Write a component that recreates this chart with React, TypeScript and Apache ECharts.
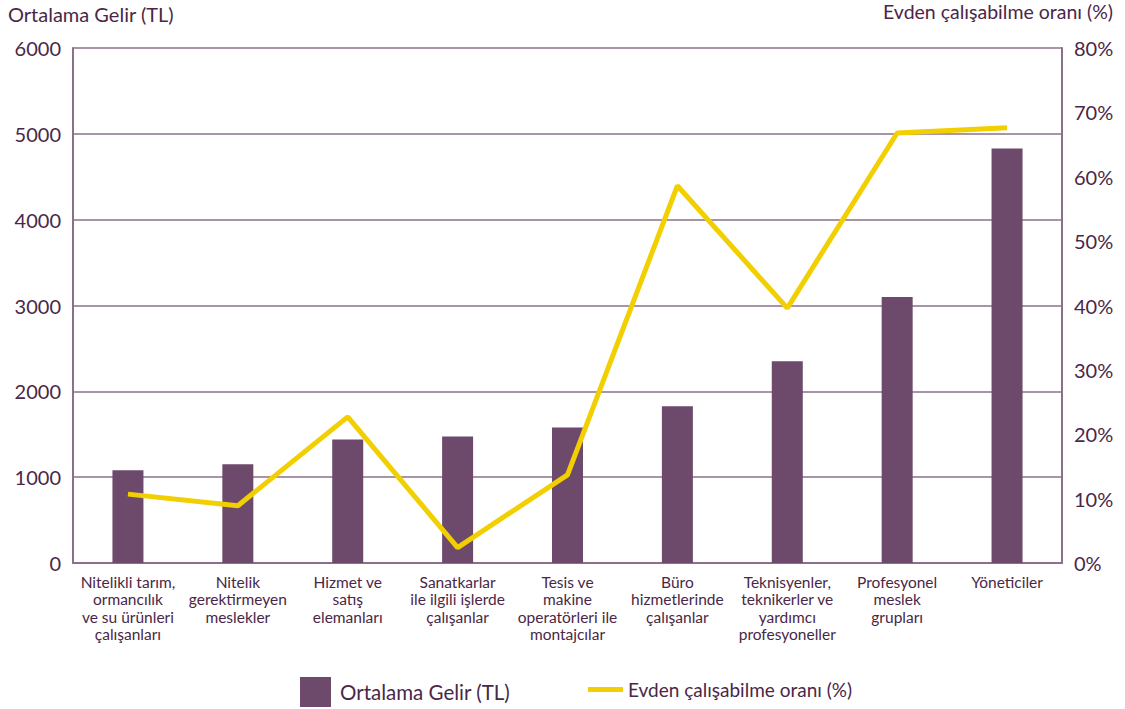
import React, { useEffect, useRef } from "react";
import * as echarts from "echarts";

const categories = [
  "Nitelikli tarım,\normancılık\nve su ürünleri\nçalışanları",
  "Nitelik\ngerektirmeyen\nmeslekler",
  "Hizmet ve\nsatış\nelemanları",
  "Sanatkarlar\nile ilgili işlerde\nçalışanlar",
  "Tesis ve\nmakine\noperatörleri ile\nmontajcılar",
  "Büro\nhizmetlerinde\nçalışanlar",
  "Teknisyenler,\nteknikerler ve\nyardımcı\nprofesyoneller",
  "Profesyonel\nmeslek\ngrupları",
  "Yöneticiler",
];
const gelir = [1080, 1150, 1440, 1475, 1580, 1825, 2350, 3100, 4830];
const evden = [10.7, 8.9, 22.7, 2.4, 13.7, 58.6, 39.6, 66.8, 67.6];
const leftTicks = { min: 0, max: 6000, interval: 1000 };
const rightTicks = { min: 0, max: 80, interval: 10 };

const FONT = "Lato, 'Noto Sans', sans-serif";
const TEXT = "#4a2747";
const AXIS = "#8c6f8a";
const BAR = "#6d4a6b";
const LINE = "#f2cf00";

export default function App() {
  const ref = useRef<HTMLDivElement>(null);
  useEffect(() => {
    const chart = echarts.init(ref.current!, null, { renderer: "svg" });
    chart.setOption({
      animation: false,
      textStyle: { fontFamily: FONT, color: TEXT },
      grid: { left: 73, right: 63, top: 48, bottom: 146 },
      graphic: [
        {
          type: "text",
          left: 8,
          top: 4,
          style: { text: "Ortalama Gelir (TL)", fontSize: 20, fill: TEXT, fontFamily: FONT },
        },
        {
          type: "text",
          right: 12,
          top: 1,
          style: { text: "Evden çalışabilme oranı (%)", fontSize: 19.5, fill: TEXT, fontFamily: FONT },
        },
      ],
      legend: [
        {
          data: ["Ortalama Gelir (TL)"],
          left: 295,
          top: 672,
          itemWidth: 31,
          itemHeight: 30,
          icon: "rect",
          itemGap: 12,
          textStyle: { fontSize: 20.5, color: TEXT, fontFamily: FONT, padding: [0, 0, 0, 4] },
        },
        {
          data: ["Evden çalışabilme oranı (%)"],
          left: 583,
          top: 675,
          itemWidth: 35,
          itemHeight: 5,
          icon: "rect",
          textStyle: { fontSize: 19, color: TEXT, fontFamily: FONT, padding: [0, 0, 0, 0] },
        },
      ],
      xAxis: {
        type: "category",
        data: categories,
        axisLine: { lineStyle: { color: AXIS, width: 2 } },
        axisTick: { show: false },
        axisLabel: {
          interval: 0,
          fontSize: 15.5,
          lineHeight: 17.5,
          color: TEXT,
          fontFamily: FONT,
          margin: 10,
        },
      },
      yAxis: [
        {
          type: "value",
          ...leftTicks,
          axisLine: { show: true, lineStyle: { color: AXIS, width: 2 } },
          axisTick: { show: false },
          splitLine: { show: true, lineStyle: { color: AXIS, width: 1.5 } },
          axisLabel: {
            fontSize: 20,
            color: TEXT,
            fontFamily: FONT,
            margin: 12,
            formatter: (v: number) => String(v),
          },
        },
        {
          type: "value",
          ...rightTicks,
          position: "right",
          axisLine: { show: true, lineStyle: { color: AXIS, width: 2 } },
          axisTick: { show: false },
          splitLine: { show: false },
          axisLabel: { fontSize: 20, color: TEXT, fontFamily: FONT, margin: 12, formatter: "{value}%" },
        },
      ],
      series: [
        {
          name: "Ortalama Gelir (TL)",
          type: "bar",
          data: gelir,
          barWidth: 31,
          itemStyle: { color: BAR },
        },
        {
          name: "Evden çalışabilme oranı (%)",
          type: "line",
          yAxisIndex: 1,
          data: evden,
          symbol: "none",
          lineStyle: { color: LINE, width: 5 },
          itemStyle: { color: LINE },
        },
      ],
    });
    return () => chart.dispose();
  }, []);
  return <div ref={ref} style={{ width: 1125, height: 709, position: "absolute", left: 0, top: 0 }} />;
}
